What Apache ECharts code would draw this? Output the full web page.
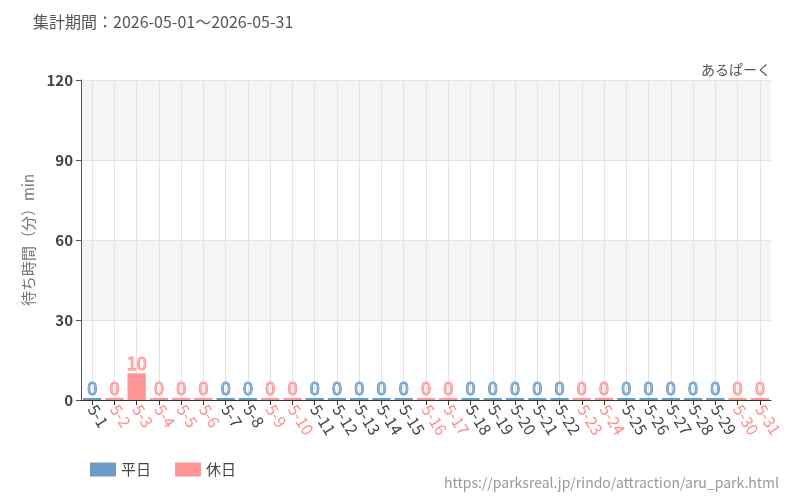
<!DOCTYPE html>
<html>
<head>
<meta charset="utf-8">
<script src="https://cdn.jsdelivr.net/npm/echarts@6/dist/echarts.min.js"></script>
<style>
  html, body { margin: 0; padding: 0; background: #fff; }
  #chart { width: 800px; height: 500px; }
</style>
</head>
<body>
<div id="chart"></div>
<script>
const days = ['5-1','5-2','5-3','5-4','5-5','5-6','5-7','5-8','5-9','5-10','5-11','5-12','5-13','5-14','5-15','5-16',
  '5-17','5-18','5-19','5-20','5-21','5-22','5-23','5-24','5-25','5-26','5-27','5-28','5-29','5-30','5-31']
// 休日 flag per day
const holiday = [0,1,1,1,1,1,0,0,1,1,0,0,0,0,0,1,1,0,0,0,0,0,1,1,0,0,0,0,0,1,1]
// waiting time (min)
const waitTimes = [0,0,10,0,0,0,0,0,0,0,0,0,0,0,0,0,0,0,0,0,0,0,0,0,0,0,0,0,0,0,0]
const yMin = 0, yMax = 120, yStep = 30

const weekdayData = waitTimes.map((v, i) => holiday[i] ? null : v)
const holidayData = waitTimes.map((v, i) => holiday[i] ? v : null)

const FONT = '"Noto Sans CJK JP", "Noto Sans", sans-serif'
const BLUE = '#6b9cc6'
const RED = '#ff9595'
const GRIDLINE = '#e4e4e4'

const myChart = echarts.init(document.getElementById('chart'))
const option = {
  textStyle: { fontFamily: FONT },
  title: [
    { text: '集計期間：2026-05-01～2026-05-31', left: 28, top: 9,
      textStyle: { fontSize: 16, fontWeight: 'normal', color: '#555' } },
    { text: 'あるぱーく', right: 24, top: 58,
      textStyle: { fontSize: 14, fontWeight: 'normal', color: '#555' } },
    { text: 'https://parksreal.jp/rindo/attraction/aru_park.html', right: 16, top: 471,
      textStyle: { fontSize: 14, fontWeight: 'normal', color: '#999' } }
  ],
  legend: {
    left: 85, top: 457,
    itemWidth: 26, itemHeight: 14, itemGap: 24,
    icon: 'rect',
    textStyle: { fontSize: 15, color: '#444' },
    data: ['平日', '休日']
  },
  grid: { left: 81, right: 29, top: 80, bottom: 100 },
  xAxis: {
    type: 'category',
    data: days,
    axisLine: { lineStyle: { color: '#333' } },
    axisTick: { show: true, alignWithLabel: true, lineStyle: { color: '#333' } },
    splitLine: { show: false },
    axisLabel: {
      interval: 0,
      rotate: -58,
      fontSize: 16,
      margin: 6,
      color: (value, idx) => holiday[idx] ? '#ff8c8c' : '#444'
    }
  },
  yAxis: {
    type: 'value',
    min: yMin, max: yMax, interval: yStep,
    name: '待ち時間（分）min',
    nameLocation: 'middle',
    nameGap: 44,
    nameTextStyle: { fontSize: 15, color: '#777' },
    axisLine: { show: true, lineStyle: { color: '#555' } },
    axisTick: { show: true, lineStyle: { color: '#555' } },
    axisLabel: { fontSize: 15, color: '#444', fontWeight: 'bold' },
    splitLine: { show: true, lineStyle: { color: GRIDLINE } },
    splitArea: { show: true, areaStyle: { color: ['#ffffff', '#f5f5f5'] } }
  },
  series: [
    {
      // vertical grid lines at category centres
      type: 'line', data: [], z: 1, silent: true,
      markLine: {
        z: 1, silent: true, symbol: 'none', label: { show: false },
        lineStyle: { color: GRIDLINE, type: 'solid', width: 1 },
        emphasis: { disabled: true },
        data: days.map(d => ({ xAxis: d }))
      }
    },
    {
      name: '平日', type: 'bar', stack: 'all', barWidth: '82%', barMinHeight: 2, z: 3,
      data: weekdayData,
      itemStyle: { color: BLUE },
      label: { show: true, position: 'top', fontSize: 18, color: '#8db4d8',
        textBorderColor: '#4a86bb', textBorderWidth: 1, distance: 1 }
    },
    {
      name: '休日', type: 'bar', stack: 'all', barWidth: '82%', barMinHeight: 2, z: 3,
      data: holidayData,
      itemStyle: { color: RED },
      label: { show: true, position: 'top', fontSize: 18, color: '#ffb0b0',
        textBorderColor: '#ff7e7e', textBorderWidth: 1, distance: 1 }
    }
  ]
}
option && myChart.setOption(option)
</script>
</body>
</html>
